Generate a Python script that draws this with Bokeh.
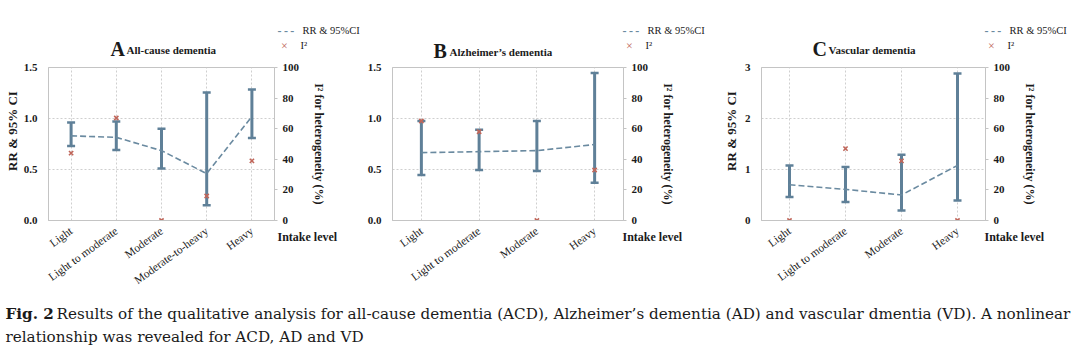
import math
from bokeh.plotting import figure
from bokeh.models import (ColumnDataSource, Whisker, TeeHead, LinearAxis, Range1d,
                          FixedTicker, Label, NumeralTickFormatter)
from bokeh.layouts import column, row
from bokeh.embed import file_html
from bokeh.resources import INLINE

# ---------------- data ----------------
cats_a = ["Light", "Light to moderate", "Moderate", "Moderate-to-heavy", "Heavy"]
rr_a = [0.83, 0.815, 0.685, 0.46, 1.02]
lo_a = [0.73, 0.69, 0.51, 0.15, 0.81]
hi_a = [0.96, 0.97, 0.90, 1.255, 1.285]
i2_a = [44, 67, 0, 16, 39]

cats_b = ["Light", "Light to moderate", "Moderate", "Heavy"]
rr_b = [0.665, 0.675, 0.685, 0.745]
lo_b = [0.445, 0.495, 0.485, 0.37]
hi_b = [0.975, 0.89, 0.975, 1.445]
i2_b = [65, 58, 0, 33]

cats_c = ["Light", "Light to moderate", "Moderate", "Heavy"]
rr_c = [0.70, 0.61, 0.50, 1.08]
lo_c = [0.46, 0.365, 0.196, 0.39]
hi_c = [1.08, 1.05, 1.29, 2.88]
i2_c = [0, 47, 39, 0]

left_ticks_ab = [0.0, 0.5, 1.0, 1.5]
left_ticks_c = [0, 1, 2, 3]
right_ticks = [0, 20, 40, 60, 80, 100]
legend_labels = ["RR & 95%CI", "I²"]

BLUE = "#5f8098"
DASH = "#6a8aa0"
RED = "#c0665a"
GRID = "#cfcfcf"
AXIS = "#c4c4c4"
INK = "#1a1a1a"
SERIF = "Liberation Serif"

W, H = 360, 295
TOP, BOTTOM = 67, 75


def slab(p, place, cx, cy, text, size="11px", bold=False, align="left", color=INK):
    # placed in a side panel (so it is not clipped to the frame); canvas pixel coords
    p.add_layout(Label(x=cx, y=cy, x_units="canvas", y_units="canvas",
                       text=text, text_font=SERIF, text_font_size=size,
                       text_font_style="bold" if bold else "normal",
                       text_color=color, text_align=align, text_baseline="middle"),
                 place)


def panel(cats, rr, lo, hi, i2, ymax, lticks, lfmt, bl, br, letter, title, tx, ty,
          left_label, left_standoff):
    n = len(cats)
    fr = W - br
    p = figure(width=W, height=H, output_backend="svg", toolbar_location=None,
               x_range=Range1d(-0.5, n - 0.5), y_range=Range1d(0, ymax),
               min_border_left=bl, min_border_right=br, min_border_top=TOP,
               min_border_bottom=BOTTOM, background_fill_color="white",
               border_fill_color="white")
    p.extra_y_ranges = {"i2": Range1d(0, 100)}
    p.outline_line_color = AXIS
    xs = list(range(n))
    src = ColumnDataSource(dict(x=xs, rr=rr, lo=lo, hi=hi, i2=i2))

    xa = p.xaxis[0]
    xa.ticker = FixedTicker(ticks=xs)
    xa.major_label_overrides = {i: c for i, c in enumerate(cats)}
    xa.major_label_orientation = math.radians(36)
    xa.major_label_text_font = SERIF
    xa.major_label_text_font_size = "11.5px"
    xa.major_label_text_color = INK
    xa.axis_line_color = AXIS
    xa.major_tick_line_color = None
    xa.minor_tick_line_color = None
    xa.major_label_standoff = 3

    ya = p.yaxis[0]
    ya.ticker = FixedTicker(ticks=lticks)
    ya.formatter = NumeralTickFormatter(format=lfmt)
    ya.major_label_text_font = SERIF
    ya.major_label_text_font_style = "bold"
    ya.major_label_text_font_size = "11px"
    ya.major_label_text_color = INK
    ya.axis_line_color = AXIS
    ya.major_tick_line_color = None
    ya.minor_tick_line_color = None
    ya.major_label_standoff = 5
    if left_label:
        # two leading em spaces lift the visible words slightly above the frame centre
        ya.axis_label = "\u2003\u2003RR & 95% CI"
        ya.axis_label_text_font = SERIF
        ya.axis_label_text_font_style = "bold"
        ya.axis_label_text_font_size = "13px"
        ya.axis_label_text_color = INK
        ya.axis_label_standoff = left_standoff

    ra = LinearAxis(y_range_name="i2", ticker=FixedTicker(ticks=right_ticks))
    ra.major_label_text_font = SERIF
    ra.major_label_text_font_style = "bold"
    ra.major_label_text_font_size = "11px"
    ra.major_label_text_color = INK
    ra.axis_line_color = AXIS
    ra.major_tick_line_color = AXIS
    ra.major_tick_out = 3
    ra.major_tick_in = 0
    ra.minor_tick_line_color = None
    ra.major_label_standoff = 5
    ra.axis_label = "I² for heterogeneity (%)"
    ra.axis_label_text_font = SERIF
    ra.axis_label_text_font_style = "bold"
    ra.axis_label_text_font_size = "12px"
    ra.axis_label_text_color = INK
    ra.axis_label_standoff = 10
    p.add_layout(ra, "right")

    p.xgrid.ticker = FixedTicker(ticks=xs)
    p.xgrid.grid_line_color = GRID
    p.xgrid.grid_line_dash = "2 2"
    p.ygrid.grid_line_color = GRID
    p.ygrid.grid_line_dash = "2 2"

    head = dict(size=8, line_color=BLUE, line_width=2.5)
    p.add_layout(Whisker(source=src, base="x", upper="hi", lower="lo",
                         line_color=BLUE, line_width=3,
                         upper_head=TeeHead(**head), lower_head=TeeHead(**head)))
    p.line("x", "rr", source=src, line_color=DASH, line_width=1.6, line_dash="6 3")
    p.scatter("x", "i2", source=src, y_range_name="i2", marker="x", size=6,
              line_color=RED, line_width=1.6)

    # titles, legend and the x-axis caption live in the side panels (never clipped)
    slab(p, "above", tx, ty, letter, size="20px", bold=True)
    slab(p, "above", tx + 16, ty + 1, title, size="11px", bold=True)
    slab(p, "above", fr + 24, 30, legend_labels[0], size="10.5px")
    slab(p, "above", fr - 1, 236, "Intake level", size="12px", bold=True)
    slab(p, "right", fr - 1, 30, "-\u2009-\u2009-", size="12px", bold=True, color=DASH)
    slab(p, "right", fr + 6, 45, "×", size="12px", align="center", color=RED)
    slab(p, "right", fr + 22, 45, legend_labels[1], size="10.5px")
    return p


pA = panel(cats_a, rr_a, lo_a, hi_a, i2_a, 1.5, left_ticks_ab, "0.0", 48, 82,
           "A", "All-cause dementia", 110, 48, True, 1)
pB = panel(cats_b, rr_b, lo_b, hi_b, i2_b, 1.5, left_ticks_ab, "0.0", 32, 97,
           "B", "Alzheimer’s dementia", 73, 50, False, 0)
pC = panel(cats_c, rr_c, lo_c, hi_c, i2_c, 3, left_ticks_c, "0", 32, 95,
           "C", "Vascular dementia", 92, 48, True, 3)

CAPF = "DejaVu Serif"
CH = 357 - H
cap = figure(width=1080, height=CH, output_backend="svg", toolbar_location=None,
             x_range=Range1d(0, 1), y_range=Range1d(0, 1), min_border=0)
cap.axis.visible = False
cap.grid.visible = False
cap.outline_line_color = None
cap_lines = [
    (5, 313, "Fig. 2", "bold"),
    (56, 313, "Results of the qualitative analysis for all-cause dementia (ACD), Alzheimer’s dementia (AD) and vascular dmentia (VD). A nonlinear", "normal"),
    (5, 336, "relationship was revealed for ACD, AD and VD", "normal"),
]
for cx, cy, txt, style in cap_lines:
    cap.add_layout(Label(x=cx, y=357 - cy, x_units="screen", y_units="screen", text=txt,
                         text_font=CAPF, text_font_size="15.2px", text_font_style=style,
                         text_baseline="middle", text_color=INK))

layout = column(row(pA, pB, pC), cap)
open("out.html", "w").write(file_html(layout, INLINE))
